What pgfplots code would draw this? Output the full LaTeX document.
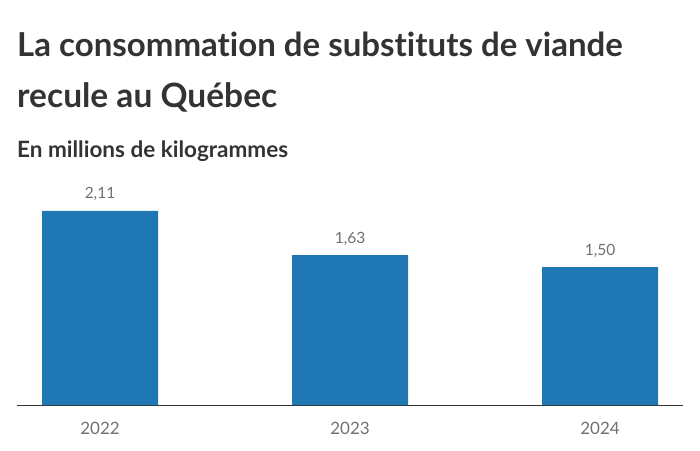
\documentclass[border=0pt]{standalone}
\usepackage{pgfplots}
\pgfplotsset{compat=1.18}
\usepackage{fontspec}
\setmainfont{Lato}[Ligatures=NoCommon]
\definecolor{barblue}{HTML}{1F78B4}
\definecolor{titlegray}{HTML}{333333}
\definecolor{labelgray}{HTML}{707070}
\begin{document}
\begin{tikzpicture}
\useasboundingbox (0pt,0pt) rectangle (700pt,-450pt);
\node[anchor=base west, inner sep=0, text=titlegray,
      font=\fontsize{33}{40}\selectfont\bfseries] at (17pt,-56pt) {La consommation de substituts de viande};
\node[anchor=base west, inner sep=0, text=titlegray,
      font=\fontsize{33.5}{40}\selectfont\bfseries] at (17pt,-107pt) {recule au Québec};
\node[anchor=base west, inner sep=0, text=titlegray,
      font=\fontsize{22.5}{26}\selectfont\bfseries] at (17pt,-157pt) {En millions de kilogrammes};
\begin{axis}[
    at={(17pt,-405pt)}, anchor=south west,
    scale only axis,
    width=666pt, height=215pt,
    xmin=-0.332, xmax=2.332,
    ymin=0, ymax=2.337,
    ybar, bar width=116pt, bar shift=0pt,
    axis x line*=bottom,
    axis y line=none,
    x axis line style={draw=titlegray, line width=0.9pt},
    xtick={0,1,2},
    xticklabels={2022,2023,2024},
    major tick length=0pt,
    xticklabel style={font=\fontsize{17}{20}\selectfont, text=labelgray,
                      anchor=base, yshift=-29pt, inner sep=0},
    /pgf/number format/assume math mode=true,
    nodes near coords,
    nodes near coords style={font=\fontsize{15.5}{18}\selectfont, text=labelgray,
                             anchor=base, yshift=12pt, inner sep=0,
                             /pgf/number format/.cd, fixed, fixed zerofill,
                             precision=2, use comma},
    clip=false,
]
\addplot[fill=barblue, draw=none] coordinates {
    (0, 2.11)
    (1, 1.63)
    (2, 1.50)
};
\end{axis}
\end{tikzpicture}
\end{document}
